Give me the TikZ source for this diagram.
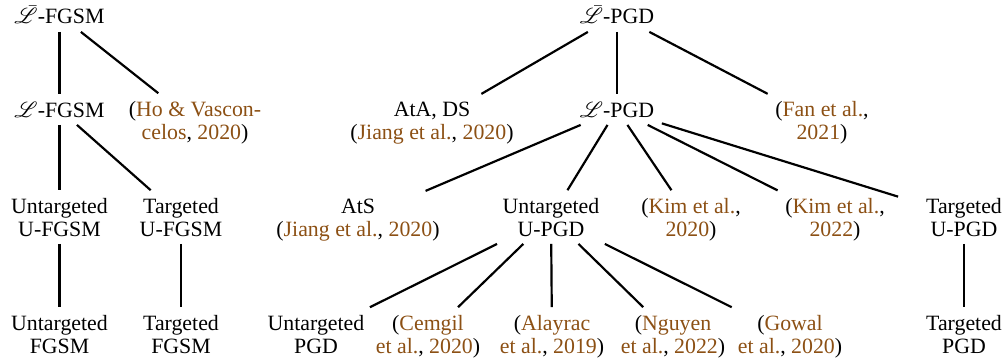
\documentclass[tikz,border=0pt]{standalone}
\usepackage{fontspec}
\setmainfont{Liberation Serif}
\usepackage{mathrsfs}
\definecolor{citebrown}{RGB}{140,80,20}
\newcommand{\cit}[1]{\textcolor{citebrown}{#1}}
\newcommand{\Lb}{$\bar{\mathscr{L}}$}
\newcommand{\Lo}{$\mathscr{L}$}
\begin{document}
\begin{tikzpicture}[x=0.458pt,y=-0.458pt,
    every node/.style={anchor=base,align=center,font=\fontsize{10}{10.5}\selectfont}]
      \useasboundingbox (0,0) rectangle (1005,360);
      \draw
        (59.5,24) node (fgsmbar){\Lb-FGSM}
        (59.5,117) node (fgsm){\Lo-FGSM}
        (195,139) node (ho){(\cit{Ho \& Vascon-}\\\cit{celos}, \cit{2020})}
        (59.5,236) node (ufgsmu){Untargeted\\U-FGSM}
        (181,236) node (ufgsmt){Targeted\\U-FGSM}
        (59.5,353) node (fgsmu){Untargeted\\FGSM}
        (181,353) node (fgsmt){Targeted\\FGSM}
        (617,24) node (pgdbar){\Lb-PGD}
        (432,139) node (ata){AtA, DS\\(\cit{Jiang et al.}, \cit{2020})}
        (617,117) node (pgd){\Lo-PGD}
        (822,139) node (fan){(\cit{Fan et al.},\\\cit{2021})}
        (358,236) node (ats){AtS\\(\cit{Jiang et al.}, \cit{2020})}
        (551,236) node (upgdu){Untargeted\\U-PGD}
        (691,236) node (kim20){(\cit{Kim et al.},\\\cit{2020})}
        (835,236) node (kim22){(\cit{Kim et al.},\\\cit{2022})}
        (964,236) node[minimum width=60pt] (upgdt){Targeted\\U-PGD}
        (316,353) node (pgdu){Untargeted\\PGD}
        (428,353) node (cemgil){(\cit{Cemgil}\\\cit{et al.}, \cit{2020})}
        (552,353) node (alayrac){(\cit{Alayrac}\\\cit{et al.}, \cit{2019})}
        (673,353) node (nguyen){(\cit{Nguyen}\\\cit{et al.}, \cit{2022})}
        (790,353) node (gowal){(\cit{Gowal}\\\cit{et al.}, \cit{2020})}
        (964,353) node (pgdt){Targeted\\PGD};
      \begin{scope}[-,line width=1pt]
        \draw (fgsmbar) to (fgsm);
        \draw (fgsmbar) to (ho);
        \draw (fgsm) to (ufgsmu);
        \draw (fgsm) to (ufgsmt);
        \draw (ufgsmu) to (fgsmu);
        \draw (ufgsmt) to (fgsmt);
        \draw (pgdbar) to (ata);
        \draw (pgdbar) to (pgd);
        \draw (pgdbar) to (fan);
        \draw (pgd) to (ats);
        \draw (pgd) to (upgdu);
        \draw (pgd) to (kim20);
        \draw (pgd) to (kim22);
        \draw (pgd) to (upgdt);
        \draw (upgdu) to (pgdu);
        \draw (upgdu) to (cemgil);
        \draw (upgdu) to (alayrac);
        \draw (upgdu) to (nguyen);
        \draw (upgdu) to (gowal);
        \draw (upgdt) to (pgdt);
      \end{scope}
    \end{tikzpicture}
\end{document}
